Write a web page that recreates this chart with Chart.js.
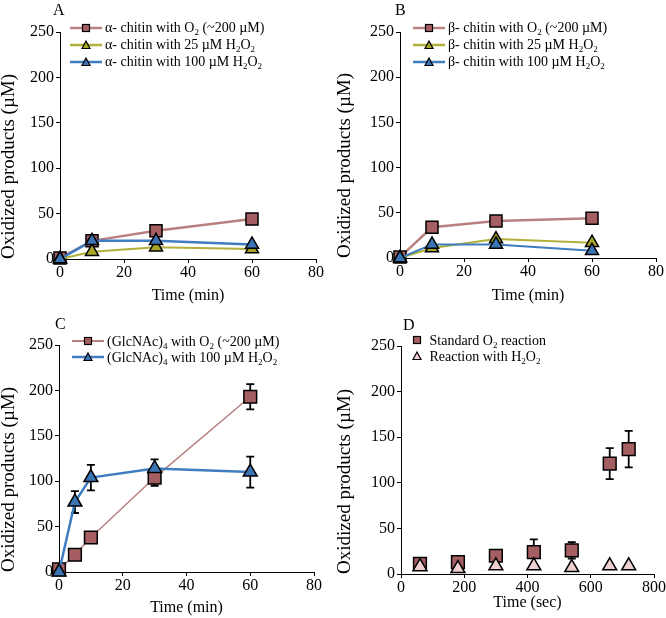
<!DOCTYPE html>
<html>
<head>
<meta charset="utf-8">
<script src="https://cdn.jsdelivr.net/npm/chart.js@4.4.1/dist/chart.umd.min.js"></script>
<style>
  body { margin: 0; background: #fff; }
  #fig { position: relative; width: 666px; height: 618px; font-family: 'Liberation Serif', 'Times New Roman', serif; }
  .panel { position: absolute; width: 333px; height: 309px; }
  .panel canvas { position: absolute; left: 0; top: 0; }
  .tag { position: absolute; font-size: 16px; line-height: 16px; }
  .legend { position: absolute; font-size: 14px; line-height: 17px; white-space: nowrap; }
  .legend div { height: 17px; display: flex; align-items: center; }
  .legend.tight div { height: 16px; }
  .legend svg { margin-right: 3px; flex: none; }
  sub { font-size: 9px; vertical-align: -3px; line-height: 0; }
</style>
</head>
<body>
<div id="fig">
  <div class="panel" style="left:0;top:0"><canvas id="cA" width="333" height="309"></canvas>
    <div class="tag" style="left:53px;top:2px">A</div>
    <div class="legend" id="legA" style="left:70px;top:19px"></div></div>
  <div class="panel" style="left:333px;top:0"><canvas id="cB" width="333" height="309"></canvas>
    <div class="tag" style="left:62px;top:2px">B</div>
    <div class="legend" id="legB" style="left:80px;top:19px"></div></div>
  <div class="panel" style="left:0;top:309px"><canvas id="cC" width="333" height="309"></canvas>
    <div class="tag" style="left:55px;top:7px">C</div>
    <div class="legend tight" id="legC" style="left:72px;top:24px"></div></div>
  <div class="panel" style="left:333px;top:309px"><canvas id="cD" width="333" height="309"></canvas>
    <div class="tag" style="left:70px;top:8px">D</div>
    <div class="legend tight" id="legD" style="left:79px;top:23px"></div></div>
</div>
<script>
// panel A: alpha-chitin
const timeA = [0, 10, 30, 60];
const alphaO2 = [1, 20, 31, 44];
const alphaH25 = [0, 8, 13, 11];
const alphaH100 = [0, 20, 20, 16];

// panel B: beta-chitin
const timeB = [0, 10, 30, 60];
const betaO2 = [1, 34, 41, 44];
const betaH25 = [0, 11, 21, 17];
const betaH100 = [0, 15, 15, 8];

// panel C: (GlcNAc)4
const timeC = [0, 5, 10, 30, 60];
const glcO2 = [3, 19, 38, 104, 193];
const glcO2Err = [0, 0, 0, 9, 14];
const glcH100 = [0, 77, 104, 114, 110];
const glcH100Err = [0, 12, 14, 10, 17];

// panel D: seconds
const timeD = [60, 180, 300, 420, 540, 660, 720];
const stdO2 = [11, 13, 20, 24, 26, 121, 137];
const stdO2Err = [0, 0, 0, 14, 9, 17, 20];
const h2o2D = [8, 6, 9, 9, 7, 9, 9];

const yTicks = [0, 50, 100, 150, 200, 250];

const FONT = "'Liberation Serif', 'Times New Roman', serif";
const ROSE = '#a55e62', ROSE_LINE = '#b98080';
const OLIVE = '#a8a626', OLIVE_LINE = '#b2b03a';
const BLUE = '#3b74b4', BLUE_LINE = '#3f7cc0';
const PINK = '#efcfd0';

const pts = (xs, ys) => xs.map((x, i) => ({ x, y: ys[i] }));

const errorBars = {
  id: 'errorBars',
  beforeDatasetsDraw(chart) {
    const { ctx, scales: { x, y } } = chart;
    ctx.save();
    ctx.strokeStyle = '#000';
    ctx.lineWidth = 1.8;
    chart.data.datasets.forEach(ds => {
      if (!ds.errors) return;
      ds.data.forEach((p, i) => {
        const e = ds.errors[i];
        if (!e) return;
        const px = x.getPixelForValue(p.x);
        const top = y.getPixelForValue(p.y + e), bot = y.getPixelForValue(p.y - e);
        ctx.beginPath();
        ctx.moveTo(px, top); ctx.lineTo(px, bot);
        ctx.moveTo(px - 4, top); ctx.lineTo(px + 4, top);
        ctx.moveTo(px - 4, bot); ctx.lineTo(px + 4, bot);
        ctx.stroke();
      });
    });
    ctx.restore();
  }
};

function series(data, color, line, shape, r, lw, order, showLine = true) {
  return {
    data, order, showLine,
    borderColor: line, borderWidth: lw,
    pointStyle: shape, pointRadius: r, pointHoverRadius: r,
    pointBackgroundColor: color, pointBorderColor: '#000', pointBorderWidth: 1.5,
    clip: false, tension: 0
  };
}

// area = chart area edges inside the 333x309 canvas; xt/yt = title paddings
function makeChart(id, area, xMax, xStep, xTitle, xt, yt, datasets) {
  const W = 333, H = 309;
  return new Chart(document.getElementById(id), {
    type: 'scatter',
    data: { datasets },
    options: {
      responsive: false, animation: false, devicePixelRatio: 1,
      layout: { padding: { left: 0, top: area.t, right: W - area.r, bottom: 0 } },
      plugins: { legend: { display: false }, tooltip: { enabled: false } },
      scales: {
        x: {
          type: 'linear', min: 0, max: xMax,
          afterFit: s => { s.height = H - area.b; },
          border: { display: true, color: '#000', width: 1 },
          grid: { drawOnChartArea: false, drawTicks: true, tickLength: 4, tickColor: '#000' },
          ticks: { stepSize: xStep, color: '#000', padding: 0, maxRotation: 0, font: { family: FONT, size: 16, weight: 'normal' } },
          title: { display: true, text: xTitle, color: '#000', padding: { top: 0, bottom: xt }, font: { family: FONT, size: 16, weight: 'normal' } }
        },
        y: {
          type: 'linear', min: 0, max: 250,
          afterFit: s => { s.width = area.l; },
          afterBuildTicks: s => { s.ticks = yTicks.map(v => ({ value: v })); },
          border: { display: true, color: '#000', width: 1 },
          grid: { drawOnChartArea: false, drawTicks: true, tickLength: 4, tickColor: '#000' },
          ticks: { color: '#000', padding: 2, font: { family: FONT, size: 16, weight: 'normal' } },
          title: { display: true, text: 'Oxidized products (\u00b5M)', align: 'start', color: '#000', padding: { top: yt, bottom: 0 }, font: { family: FONT, size: 19, weight: 'normal', lineHeight: 1 } }
        }
      }
    },
    plugins: [errorBars]
  });
}

makeChart('cA', { l: 60, r: 316, t: 32, b: 259 }, 80, 20, 'Time (min)', 4, 0, [
  series(pts(timeA, alphaO2), ROSE, ROSE_LINE, 'rect', 8.5, 2.5, 3),
  series(pts(timeA, alphaH25), OLIVE, OLIVE_LINE, 'triangle', 7.5, 2, 2),
  series(pts(timeA, alphaH100), BLUE, BLUE_LINE, 'triangle', 7.5, 2.5, 1)
]);

makeChart('cB', { l: 67, r: 326, t: 32, b: 258 }, 80, 20, 'Time (min)', 4, 3, [
  series(pts(timeB, betaO2), ROSE, ROSE_LINE, 'rect', 8.5, 2.5, 3),
  series(pts(timeB, betaH25), OLIVE, OLIVE_LINE, 'triangle', 7.5, 2, 2),
  series(pts(timeB, betaH100), BLUE, BLUE_LINE, 'triangle', 7.5, 2, 1)
]);

const dsC1 = series(pts(timeC, glcO2), ROSE, ROSE_LINE, 'rect', 9, 1.5, 2);
dsC1.errors = glcO2Err;
const dsC2 = series(pts(timeC, glcH100), BLUE, BLUE_LINE, 'triangle', 8, 2.5, 1);
dsC2.errors = glcH100Err;
makeChart('cC', { l: 59, r: 314, t: 36, b: 263 }, 80, 20, 'Time (min)', 1, 0, [dsC1, dsC2]);

const dsD1 = series(pts(timeD, stdO2), ROSE, ROSE_LINE, 'rect', 9, 0, 2, false);
dsD1.errors = stdO2Err;
const dsD2 = series(pts(timeD, h2o2D), PINK, PINK, 'triangle', 8, 0, 1, false);
makeChart('cD', { l: 68, r: 324, t: 37, b: 265 }, 800, 200, 'Time (sec)', 6, 3, [dsD1, dsD2]);

// legends
function icon(shape, fill, line, lw) {
  const l = line ? `<line x1="0" y1="6" x2="32" y2="6" stroke="${line}" stroke-width="${lw}"/>` : '';
  const m = shape === 'rect'
    ? `<rect x="${line ? 12.5 : 1.5}" y="2.5" width="7" height="7" fill="${fill}" stroke="#000" stroke-width="1.2"/>`
    : `<polygon points="${line ? '16,2 20,9.5 12,9.5' : '5,2 9,9.5 1,9.5'}" fill="${fill}" stroke="#000" stroke-width="1.2"/>`;
  const w = line ? 32 : 11;
  return `<svg width="${w}" height="12">${l}${m}</svg>`;
}
function legend(id, rows) {
  document.getElementById(id).innerHTML = rows.map(r => `<div>${r[0]}<span>${r[1]}</span></div>`).join('');
}
legend('legA', [
  [icon('rect', ROSE, ROSE_LINE, 2.5), '\u03b1- chitin with O<sub>2</sub> (~200 \u00b5M)'],
  [icon('triangle', OLIVE, OLIVE_LINE, 2.5), '\u03b1- chitin with 25 \u00b5M H<sub>2</sub>O<sub>2</sub>'],
  [icon('triangle', BLUE, BLUE_LINE, 2.5), '\u03b1- chitin with 100 \u00b5M H<sub>2</sub>O<sub>2</sub>']
]);
legend('legB', [
  [icon('rect', ROSE, ROSE_LINE, 2.5), '\u03b2- chitin with O<sub>2</sub> (~200 \u00b5M)'],
  [icon('triangle', OLIVE, OLIVE_LINE, 2.5), '\u03b2- chitin with 25 \u00b5M H<sub>2</sub>O<sub>2</sub>'],
  [icon('triangle', BLUE, BLUE_LINE, 2.5), '\u03b2- chitin with 100 \u00b5M H<sub>2</sub>O<sub>2</sub>']
]);
legend('legC', [
  [icon('rect', ROSE, ROSE_LINE, 2), '(GlcNAc)<sub>4</sub> with O<sub>2</sub> (~200 \u00b5M)'],
  [icon('triangle', BLUE, BLUE_LINE, 2.5), '(GlcNAc)<sub>4</sub> with 100 \u00b5M H<sub>2</sub>O<sub>2</sub>']
]);
legend('legD', [
  [icon('rect', ROSE, null, 0), '&nbsp;Standard O<sub>2</sub> reaction'],
  [icon('triangle', PINK, null, 0), '&nbsp;Reaction with H<sub>2</sub>O<sub>2</sub>']
]);
</script>
</body>
</html>
